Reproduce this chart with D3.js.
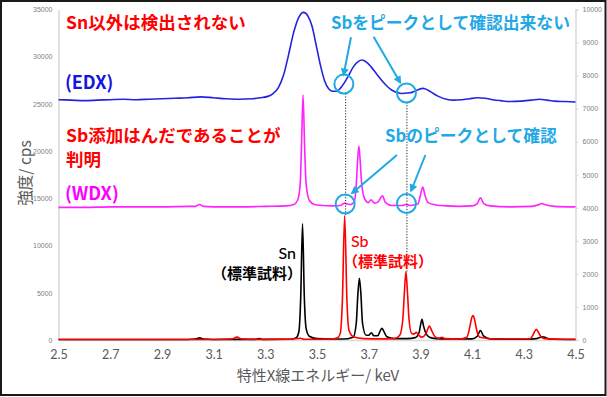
<!DOCTYPE html>
<html><head><meta charset="utf-8">
<script src="https://cdn.jsdelivr.net/npm/d3@7"></script>
<style>
html,body{margin:0;padding:0;background:#fff;}
svg{display:block;}
</style></head>
<body>
<svg id="chart" width="607" height="397"></svg>
<script>
// ---- data ----
// energies in keV, intensities in cps (left axis)
const edx = [[2.50,25450],[2.55,25400],[2.60,25350],[2.65,25400],[2.70,25450],[2.75,25500],[2.80,25450],[2.85,25500],[2.90,25550],[2.95,25600],[3.00,25650],[3.05,25750],[3.10,25650],[3.15,25550],[3.20,25500],[3.25,25550],[3.28,25650],[3.31,25800],[3.33,26100],[3.35,26700],[3.37,28000],[3.39,30200],[3.41,32600],[3.43,34200],[3.448,34700],[3.465,34300],[3.48,33300],[3.50,30800],[3.515,28900],[3.53,27400],[3.545,26600],[3.56,26350],[3.575,26350],[3.59,26650],[3.605,27200],[3.62,27900],[3.64,28900],[3.66,29500],[3.675,29650],[3.69,29450],[3.71,28900],[3.73,28200],[3.75,27500],[3.77,26900],[3.79,26450],[3.81,26200],[3.83,26100],[3.85,26150],[3.87,26250],[3.89,26500],[3.91,26650],[3.93,26450],[3.95,26100],[3.97,25800],[4.00,25500],[4.03,25400],[4.06,25450],[4.09,25550],[4.12,25650],[4.15,25600],[4.18,25450],[4.21,25350],[4.25,25250],[4.29,25300],[4.33,25400],[4.36,25500],[4.39,25400],[4.42,25300],[4.46,25250],[4.50,25200]];

const wdx = [[2.50,14050],[2.60,14050],[2.70,14100],[2.80,14100],[2.90,14100],[3.00,14150],[3.03,14150],[3.045,14350],[3.06,14150],[3.10,14100],[3.20,14100],[3.30,14150],[3.38,14200],[3.41,14350],[3.425,14800],[3.435,16500],[3.44,20500],[3.446,25950],[3.452,20500],[3.458,16500],[3.47,14800],[3.49,14350],[3.52,14250],[3.56,14200],[3.59,14250],[3.600,14400],[3.607,14500],[3.615,14400],[3.63,14350],[3.645,14700],[3.652,16500],[3.657,19000],[3.662,20550],[3.667,19000],[3.672,16800],[3.68,15300],[3.69,14700],[3.698,14550],[3.709,14850],[3.722,14500],[3.735,14600],[3.753,15270],[3.765,14550],[3.79,14250],[3.83,14250],[3.844,14350],[3.86,14250],[3.89,14400],[3.90,15300],[3.909,16200],[3.918,15300],[3.93,14550],[3.96,14300],[4.00,14200],[4.05,14150],[4.10,14200],[4.12,14450],[4.132,15050],[4.145,14450],[4.17,14200],[4.25,14100],[4.33,14150],[4.36,14350],[4.37,14450],[4.38,14350],[4.42,14150],[4.50,14100]];

const snStd = [[2.50,50],[2.80,50],[3.00,60],[3.03,100],[3.046,220],[3.06,100],[3.10,60],[3.26,70],[3.276,150],[3.29,70],[3.40,80],[3.42,250],[3.43,900],[3.437,4500],[3.444,12300],[3.451,4500],[3.458,1200],[3.47,400],[3.50,150],[3.55,100],[3.60,100],[3.64,300],[3.652,1800],[3.658,4800],[3.664,6540],[3.670,4800],[3.676,1800],[3.69,500],[3.70,500],[3.710,770],[3.72,450],[3.735,450],[3.745,1000],[3.751,1240],[3.757,1000],[3.77,350],[3.80,150],[3.85,150],[3.88,250],[3.895,800],[3.900,1500],[3.906,2190],[3.912,1500],[3.92,800],[3.935,300],[3.96,150],[4.00,100],[4.10,120],[4.12,400],[4.132,990],[4.145,400],[4.17,120],[4.30,80],[4.35,150],[4.365,300],[4.373,350],[4.385,250],[4.40,100],[4.50,50]];

const sbStd = [[2.50,50],[2.90,50],[3.10,60],[3.17,100],[3.19,300],[3.21,100],[3.30,60],[3.40,80],[3.435,180],[3.45,80],[3.55,100],[3.58,250],[3.59,700],[3.598,4000],[3.607,13150],[3.616,4000],[3.624,1000],[3.64,350],[3.68,150],[3.75,120],[3.80,150],[3.82,500],[3.832,2200],[3.838,5000],[3.844,7250],[3.850,5000],[3.856,2200],[3.866,700],[3.876,650],[3.884,810],[3.892,550],[3.905,300],[3.922,700],[3.929,1200],[3.935,1480],[3.942,1100],[3.955,400],[3.97,200],[3.984,290],[3.995,150],[4.05,100],[4.08,300],[4.092,1500],[4.097,2200],[4.104,2580],[4.111,2000],[4.118,1000],[4.13,300],[4.20,100],[4.32,100],[4.335,500],[4.342,900],[4.348,1130],[4.355,900],[4.365,400],[4.38,150],[4.45,80],[4.50,80]];

const xTicks = [2.5,2.7,2.9,3.1,3.3,3.5,3.7,3.9,4.1,4.3,4.5];
const yLeftTicks = [0,5000,10000,15000,20000,25000,30000,35000];
const yRightTicks = [0,1000,2000,3000,4000,5000,6000,7000,8000,9000,10000];

// Sb line energies (dotted guides) and where they meet the standard peak
const sbLineE = [3.607, 3.844];
const sbLinePeak = [13150, 7250];
// circles: [keV, cps]
const edxCircles = [[3.604,27100],[3.846,26160]];
const wdxCircles = [[3.609,14400],[3.846,14450]];
// arrows: [fromKeV, fromCps, toKeV, toCps]
const arrows = [[3.6315,32056,3.6028,28063],[3.719,32119,3.8224,27248],[3.8096,19591,3.6353,15535],[3.9192,19591,3.8638,15779]];

// ---- drawing ----
const svg = d3.select("#chart");
const X0 = 58.5, X1 = 575.5, Y0 = 340, Y1 = 9.5;
const x = d3.scaleLinear().domain([2.5,4.5]).range([X0,X1]);
const yL = d3.scaleLinear().domain([0,35000]).range([Y0,Y1]);
const yR = d3.scaleLinear().domain([0,10000]).range([Y0,Y1]);

const grey = "#d9d9d9";
const cyan = "#1fa9e5";
const cjk = "'Noto Sans CJK JP','Noto Sans',sans-serif";

// outer frame
svg.append("rect").attr("x",1).attr("y",1).attr("width",604.5).attr("height",394)
  .attr("fill","#fff").attr("stroke","#1a1a1a").attr("stroke-width",2);

// left axis
const gL = svg.append("g").attr("transform",`translate(${X0},0)`)
  .call(d3.axisLeft(yL).tickValues(yLeftTicks).tickSize(0).tickPadding(6).tickFormat(d3.format("d")));
// right axis
const gR = svg.append("g").attr("transform",`translate(${X1},0)`)
  .call(d3.axisRight(yR).tickValues(yRightTicks).tickSize(3).tickPadding(4).tickFormat(d3.format("d")));
[gL,gR].forEach(g=>{
  g.select(".domain").attr("stroke",grey).attr("stroke-width",1.5);
  g.selectAll(".tick line").attr("stroke",grey);
  g.selectAll(".tick text").attr("fill","#808080").style("font-family","'Liberation Sans',Arial,sans-serif").style("font-size","7px");
});
// bottom axis
const gB = svg.append("g").attr("transform",`translate(0,${Y0})`)
  .call(d3.axisBottom(x).tickValues(xTicks).tickSize(0).tickPadding(10).tickFormat(d3.format(".1f")));
gB.select(".domain").attr("stroke",grey).attr("stroke-width",1.5);
gB.selectAll(".tick text").attr("fill","#595959").style("font-family","Lato,'Liberation Sans',sans-serif").style("font-size","12.5px");

// axis titles
svg.append("text").attr("transform","translate(30.5,173) rotate(-90)").attr("text-anchor","middle")
  .style("font-family",cjk).style("font-size","15.5px").attr("fill","#595959").text("強度/ cps");
svg.append("text").attr("x",318).attr("y",381).attr("text-anchor","middle")
  .style("font-family",cjk).style("font-size","15px").attr("fill","#595959").text("特性X線エネルギー/ keV");

// series
const line = d3.line().x(d=>x(d[0])).y(d=>yL(d[1])).curve(d3.curveMonotoneX);
const series = [
  {data:edx, color:"#2323e0"},
  {data:wdx, color:"#ff22ff"},
  {data:snStd, color:"#000000"},
  {data:sbStd, color:"#ff0000"}
];
svg.append("g").selectAll("path").data(series).join("path")
  .attr("d",d=>line(d.data)).attr("fill","none").attr("stroke",d=>d.color)
  .attr("stroke-width",1.6).attr("stroke-linejoin","round");

// dotted guide lines
svg.append("g").selectAll("line").data(sbLineE).join("line")
  .attr("x1",d=>x(d)+1).attr("x2",d=>x(d)+1)
  .attr("y1",(d,i)=>yL(edxCircles[i][1])+9.5)
  .attr("y2",(d,i)=>yL(sbLinePeak[i]))
  .attr("stroke","#222").attr("stroke-width",1).attr("stroke-dasharray","1.2,1.6");

// circles
svg.append("g").selectAll("circle").data(edxCircles.concat(wdxCircles)).join("circle")
  .attr("cx",d=>x(d[0])).attr("cy",d=>yL(d[1])).attr("r",9.5)
  .attr("fill","none").attr("stroke",cyan).attr("stroke-width",2);

// arrows
svg.append("defs").append("marker").attr("id","ah").attr("markerUnits","userSpaceOnUse")
  .attr("viewBox","0 0 10 10").attr("refX",8).attr("refY",5)
  .attr("markerWidth",9).attr("markerHeight",8).attr("orient","auto")
  .append("path").attr("d","M0,0 L10,5 L0,10 z").attr("fill",cyan);
svg.append("g").selectAll("line").data(arrows).join("line")
  .attr("x1",d=>x(d[0])).attr("y1",d=>yL(d[1])).attr("x2",d=>x(d[2])).attr("y2",d=>yL(d[3]))
  .attr("stroke",cyan).attr("stroke-width",2).attr("marker-end","url(#ah)");

// annotation texts
const labels = [
  {t:"Sn以外は検出されない", x:66, y:28.5, c:"#ff0000", s:17.5, a:"start", w:700},
  {t:"(EDX)", x:65, y:88.5, c:"#1515e0", s:18, a:"start", w:700},
  {t:"Sb添加はんだであることが", x:66, y:142, c:"#ff0000", s:17.5, a:"start", w:700},
  {t:"判明", x:66, y:166, c:"#ff0000", s:17.5, a:"start", w:700},
  {t:"(WDX)", x:65, y:199.5, c:"#ff00ff", s:18, a:"start", w:700},
  {t:"Sbをピークとして確認出来ない", x:331, y:28.5, c:cyan, s:16.8, a:"start", w:700},
  {t:"Sbのピークとして確認", x:385, y:142, c:cyan, s:16.8, a:"start", w:700},
  {t:"Sn", x:296, y:259, c:"#000", s:16, a:"end", w:500, f:"Lato,'Liberation Sans',sans-serif"},
  {t:"（標準試料）", x:302, y:279, c:"#000", s:15, a:"end", w:700},
  {t:"Sb", x:351, y:247, c:"#ff0000", s:16, a:"start", w:500, f:"Lato,'Liberation Sans',sans-serif"},
  {t:"（標準試料）", x:343, y:267, c:"#ff0000", s:15, a:"start", w:700}
];
svg.append("g").selectAll("text").data(labels).join("text")
  .attr("x",d=>d.x).attr("y",d=>d.y).attr("text-anchor",d=>d.a)
  .style("font-family",d=>d.f||cjk).style("font-size",d=>d.s+"px").style("font-weight",d=>d.w)
  .attr("fill",d=>d.c).text(d=>d.t);
</script>
</body></html>
